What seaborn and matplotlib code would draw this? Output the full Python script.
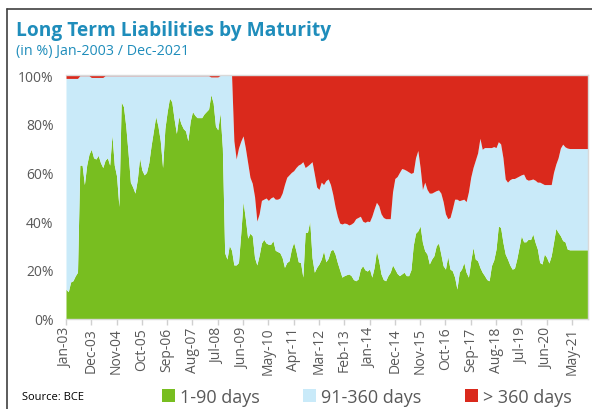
import numpy as np
import pandas as pd
import matplotlib
matplotlib.use("Agg")
import matplotlib.pyplot as plt
from matplotlib.patches import Patch
from matplotlib.lines import Line2D
import seaborn as sns

# monthly shares (in %), Jan-2003 .. Dec-2021
short_term = [  # 1-90 days
    12, 11, 15, 15.5, 17.5, 19, 63, 63, 55, 63, 67.5, 69.5,
    66, 65.5, 67, 64, 62, 65, 66, 63, 75.5, 63, 58.5, 46,
    89, 87, 79, 68, 56, 54, 51.5, 57, 66, 61, 59, 60,
    64, 71, 77, 83, 79, 73, 62, 78, 85, 90.5, 89, 82,
    76, 83, 80, 78, 77, 73, 81, 85, 83.5, 82.5, 82.5, 82.5,
    84, 85, 86, 92, 88.5, 79, 77.5, 84.5, 70, 27, 24.4, 30,
    28, 22, 22, 23, 35, 48, 41, 33, 35, 34, 25, 22,
    26, 31, 32.5, 31, 30.5, 30.5, 32, 28, 27.5, 27, 25, 21,
    23, 23.7, 28.5, 31.3, 27.8, 23.3, 23, 17, 35.4, 35.4, 40, 25,
    19, 21, 22.4, 24.4, 27.8, 23.3, 24.7, 27.8, 28.5, 26.5, 23, 20,
    17, 17.6, 18, 18.3, 17.6, 16, 15.5, 16.2, 20.3, 21.7, 20, 19.5,
    20.3, 17, 21, 27.8, 23.7, 18.3, 16, 15.5, 17.6, 19, 22, 20.3,
    18.5, 17.6, 18.3, 19, 17.6, 17.6, 20, 30, 35, 36, 38, 31.3,
    27.8, 26.5, 22.4, 24.4, 25.8, 29.9, 31, 26.5, 21.7, 20.3, 25.5, 20.3,
    19.6, 17, 12.1, 19, 20.3, 23, 19, 17, 23.7, 29.2, 24.4, 23.7,
    21, 19, 17.6, 16, 15.5, 21.7, 24, 28.5, 38, 37.4, 31.3, 26.5,
    24.4, 22, 20.3, 20.6, 24.4, 29.2, 34, 31.5, 31.5, 32.6, 32.4, 34.7,
    31.3, 28.5, 23, 22.4, 26.5, 25.1, 22.8, 25.8, 31.3, 37, 35.4, 34,
    32, 31.5, 28.5, 28.2, 28.2, 28.2, 28.2, 28.2, 28.2, 28.2, 28.2, 28.2,
]
long_term = [  # > 360 days
    1.4, 1.4, 1.4, 1.4, 1.4, 1.4, 0.3, 0.3, 0.3, 0.3, 0.3, 1.0,
    1.0, 1.0, 1.0, 1.0, 1.0, 0.3, 0.3, 0.3, 0.3, 0.3, 0.3, 0.3,
    0.3, 0.3, 0.3, 0.3, 0.3, 0.3, 0.3, 0.3, 0.3, 0.3, 0.3, 0.3,
    0.3, 0.3, 0.3, 0.3, 0.3, 0.3, 0.3, 0.3, 0.3, 0.3, 0.3, 0.3,
    0.3, 0.3, 0.3, 0.3, 0.3, 0.3, 0.3, 0.3, 0.3, 0.3, 0.3, 0.3,
    0.3, 0.3, 0.3, 0.8, 0.8, 0.8, 0.8, 0.2, 0.2, 0.2, 0.2, 0.2,
    0.2, 27, 34.5, 30, 27.2, 25, 30, 36, 42, 44.5, 50, 60,
    57, 51.5, 51, 50.5, 51.5, 50.5, 50, 51, 51, 50.5, 48.5, 45,
    42, 41, 40, 39.3, 38, 37, 36.5, 35.6, 38, 37.3, 36.5, 35.6,
    40.7, 46, 47, 44, 45, 43.4, 42.7, 45, 49, 54, 58, 60.8,
    61.2, 60.8, 61, 61.6, 61.2, 60.5, 59, 58.5, 58, 60, 60.5, 60,
    60.2, 58, 55, 52.3, 53.7, 57, 58.5, 59, 59, 59, 48, 42.5,
    41.7, 40, 38.4, 38.7, 39.2, 39.8, 40.4, 40, 34, 31, 38, 47,
    44, 47, 48.5, 48.5, 48, 47.5, 47.2, 48.5, 52, 57, 59, 58.5,
    55, 51, 51, 51.6, 51.3, 51, 52, 48, 42, 38, 35, 32,
    26, 30.5, 29.8, 29.8, 29.8, 29.8, 29.4, 29.8, 27.4, 28.3, 33.9, 42.7,
    44, 43, 42.5, 42.5, 42, 41.5, 41, 40.7, 42.7, 43.2, 43, 42.7,
    43.2, 44, 44, 44.5, 45, 45, 45, 45, 40, 36.6, 34, 30,
    28.4, 29.5, 30, 30.2, 30.2, 30.2, 30.2, 30.2, 30.2, 30.2, 30.2, 30.2,
]
months = pd.date_range("2003-01-01", "2021-12-01", freq="MS")

df = pd.DataFrame({"month": months, "1-90 days": short_term, "> 360 days": long_term})
# shares add up to 100%, the middle bucket is the rest
df["91-360 days"] = 100 - df["1-90 days"] - df["> 360 days"]

series = ["1-90 days", "91-360 days", "> 360 days"]
colors = {"1-90 days": "#78be20", "91-360 days": "#c9eaf9", "> 360 days": "#da291c"}
grey = "#595959"

sns.set_theme(style="white")
plt.rcParams["font.family"] = ["Open Sans", "DejaVu Sans"]

fig = plt.figure(figsize=(5.92, 4.10), dpi=100)
ax = fig.add_axes([66 / 592, 1 - 319.5 / 410, (588 - 66) / 592, (319.5 - 76) / 410])

x = np.arange(len(df))
ax.stackplot(x, [df[s] for s in series], colors=[colors[s] for s in series], linewidth=0)

ax.set_xlim(0, len(df) - 1)
ax.set_ylim(0, 100)

ax.set_yticks(range(0, 101, 20))
ax.set_yticklabels([f"{v}%" for v in range(0, 101, 20)])
ax.tick_params(axis="y", length=0, pad=9, labelsize=10, labelcolor=grey)

ax.set_xticks(x[::11])
ax.set_xticklabels(months[::11].strftime("%b-%y"), rotation=90)
ax.tick_params(axis="x", length=4, width=1, color="#d0d0d0", pad=2,
               labelsize=10, labelcolor=grey, bottom=True)

ax.spines["left"].set_visible(False)
for side in ["top", "right", "bottom"]:
    ax.spines[side].set_color("#d9d9d9")
    ax.spines[side].set_linewidth(1)

# titles
fig.text(16 / 592, 1 - 36 / 410, "Long Term Liabilities by Maturity", fontsize=13.8,
         fontweight="bold", color="#1f8dbb", va="baseline")
fig.text(16 / 592, 1 - 55 / 410, "(in %) Jan-2003 / Dec-2021", fontsize=10.3,
         color="#1f8dbb", va="baseline")

# legend + source
handles = [Patch(facecolor=colors[s], edgecolor="none") for s in series]
fig.legend(handles, series, loc="center", bbox_to_anchor=(0.62, 0.03), ncol=3,
           frameon=False, fontsize=13, handlelength=0.7, handleheight=0.7,
           handletextpad=0.3, columnspacing=2.4, labelcolor=grey)
fig.text(22 / 592, 0.03, "Source: BCE", fontsize=8, color="black", va="center")

# outer frame (top and left edges visible in the reference)
fig.add_artist(Line2D([7 / 592, 1], [1 - 10 / 410, 1 - 10 / 410],
                      transform=fig.transFigure, color="#404040", lw=1.2))
fig.add_artist(Line2D([7 / 592, 7 / 592], [0, 1 - 10 / 410],
                      transform=fig.transFigure, color="#404040", lw=1.2))

fig.savefig("out.png", dpi=100)
